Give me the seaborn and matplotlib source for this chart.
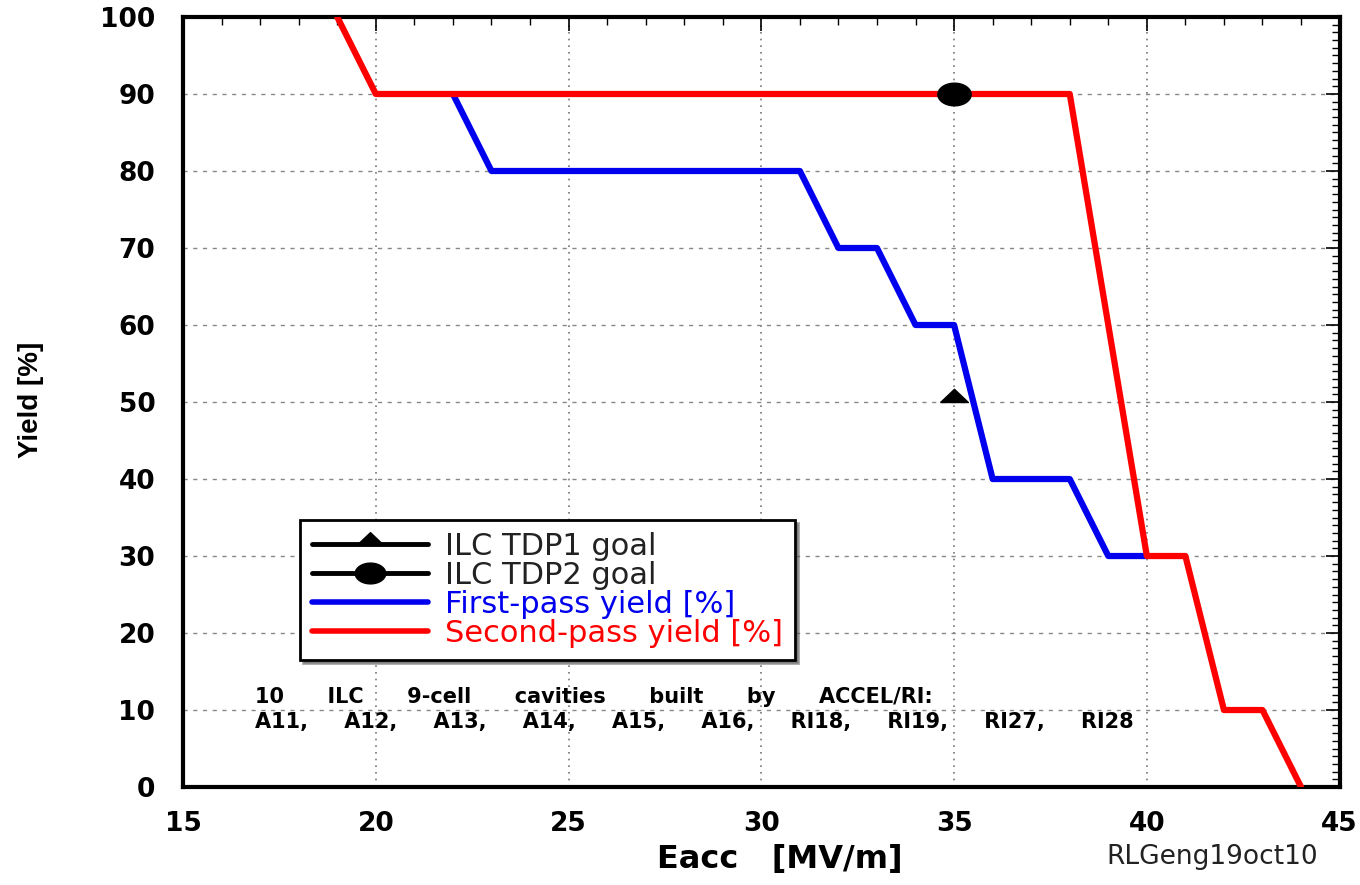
import numpy as np
import pandas as pd
import seaborn as sns
import matplotlib.pyplot as plt
from matplotlib.lines import Line2D
from matplotlib.ticker import MultipleLocator

# first-pass and second-pass yield curves
first_eacc = [22, 23, 31, 32, 33, 34, 35, 36, 38, 39, 40]
first_yield = [90, 80, 80, 70, 70, 60, 60, 40, 40, 30, 30]
second_eacc = [19, 20, 38, 40, 41, 42, 43, 44]
second_yield = [100, 90, 90, 30, 30, 10, 10, 0]

# ILC goals
tdp1_goal = (35, 50)
tdp2_goal = (35, 90)

cavities = ['A11,', 'A12,', 'A13,', 'A14,', 'A15,', 'A16,', 'RI18,', 'RI19,', 'RI27,', 'RI28']
header = ['10', 'ILC', '9-cell', 'cavities', 'built', 'by', 'ACCEL/RI:']

df1 = pd.DataFrame({'Eacc': first_eacc, 'Yield': first_yield})
df2 = pd.DataFrame({'Eacc': second_eacc, 'Yield': second_yield})

sns.set_style('white')
plt.rcParams['font.family'] = ['DejaVu Sans']
plt.rcParams['text.color'] = 'black'
plt.rcParams['axes.labelcolor'] = 'black'
plt.rcParams['xtick.labelcolor'] = 'black'
plt.rcParams['ytick.labelcolor'] = 'black'

fig = plt.figure(figsize=(13.6, 8.85), dpi=100)
ax = fig.add_axes([0.1346, 0.1107, 0.8504, 0.8701])

sns.lineplot(data=df1, x='Eacc', y='Yield', ax=ax, color='#0000ee', lw=4.5,
             estimator=None, sort=False, zorder=3)
sns.lineplot(data=df2, x='Eacc', y='Yield', ax=ax, color='#ff0000', lw=4.5,
             estimator=None, sort=False, zorder=3)

# marker shapes like the original (flat triangle sitting on the point, wide ellipse)
tri = [(-1, 0), (1, 0), (0, 0.95), (-1, 0)]
t = np.linspace(0, 2 * np.pi, 40)
ell = list(zip(np.cos(t), 0.68 * np.sin(t)))

ax.plot(*tdp1_goal, marker=tri, ms=20, color='black', zorder=4)
ax.plot(*tdp2_goal, marker=ell, ms=24, color='black', zorder=4)

ax.set_xlim(15, 45)
ax.set_ylim(0, 100)
ax.xaxis.set_major_locator(MultipleLocator(5))
ax.xaxis.set_minor_locator(MultipleLocator(1))
ax.yaxis.set_major_locator(MultipleLocator(10))
ax.yaxis.set_minor_locator(MultipleLocator(1))
ax.tick_params(which='both', direction='in', top=True, right=True, color='black')
ax.tick_params(which='major', length=10, width=1.2)
ax.tick_params(which='minor', length=6, width=1)
ax.tick_params(axis='y', which='major', pad=20, labelsize=19)
ax.tick_params(axis='x', which='major', pad=17, labelsize=19)
for lab in ax.get_xticklabels() + ax.get_yticklabels():
    lab.set_fontweight('bold')

ax.xaxis.grid(True, linestyle=(0, (1, 3)), color='#777777', lw=1.2)
ax.yaxis.grid(True, linestyle=(0, (3, 4)), color='#888888', lw=1)
for s in ax.spines.values():
    s.set_linewidth(3)
    s.set_color('black')

ax.set_xlabel('Eacc   [MV/m]', fontsize=23, fontweight='bold')
ax.set_ylabel('Yield [%]', fontsize=20, fontweight='bold', family='Liberation Sans')
ax.xaxis.set_label_coords(0.516, -0.074)
ax.yaxis.set_label_coords(-0.12, 0.503)
fig.text(1212 / 1360, 1 - 857 / 885, 'RLGeng19oct10', fontsize=19,
         ha='center', va='center', color='#222222')

ax.text(0.062, 0.117, '      '.join(header), transform=ax.transAxes,
        fontsize=15, fontweight='bold', va='center', ha='left')
ax.text(0.062, 0.085, '     '.join(cavities), transform=ax.transAxes,
        fontsize=15, fontweight='bold', va='center', ha='left')

handles = [
    Line2D([], [], color='black', lw=3.5, marker=tri, ms=18),
    Line2D([], [], color='black', lw=3.5, marker=ell, ms=22),
    Line2D([], [], color='#0000ee', lw=4),
    Line2D([], [], color='#ff0000', lw=4),
]
labels = ['ILC TDP1 goal', 'ILC TDP2 goal', 'First-pass yield [%]', 'Second-pass yield [%]']
leg = ax.legend(handles, labels, loc='upper left', bbox_to_anchor=(0.101, 0.347),
                borderaxespad=0, fontsize=22, handlelength=3.8, handletextpad=0.55,
                labelspacing=0.0, frameon=True, fancybox=False, shadow=True,
                borderpad=0.4, framealpha=1)
leg.get_frame().set_edgecolor('black')
leg.get_frame().set_linewidth(2)
for txt, c in zip(leg.get_texts(), ['#222222', '#222222', '#0000ee', '#ff0000']):
    txt.set_color(c)

fig.savefig('out.png', dpi=100)
